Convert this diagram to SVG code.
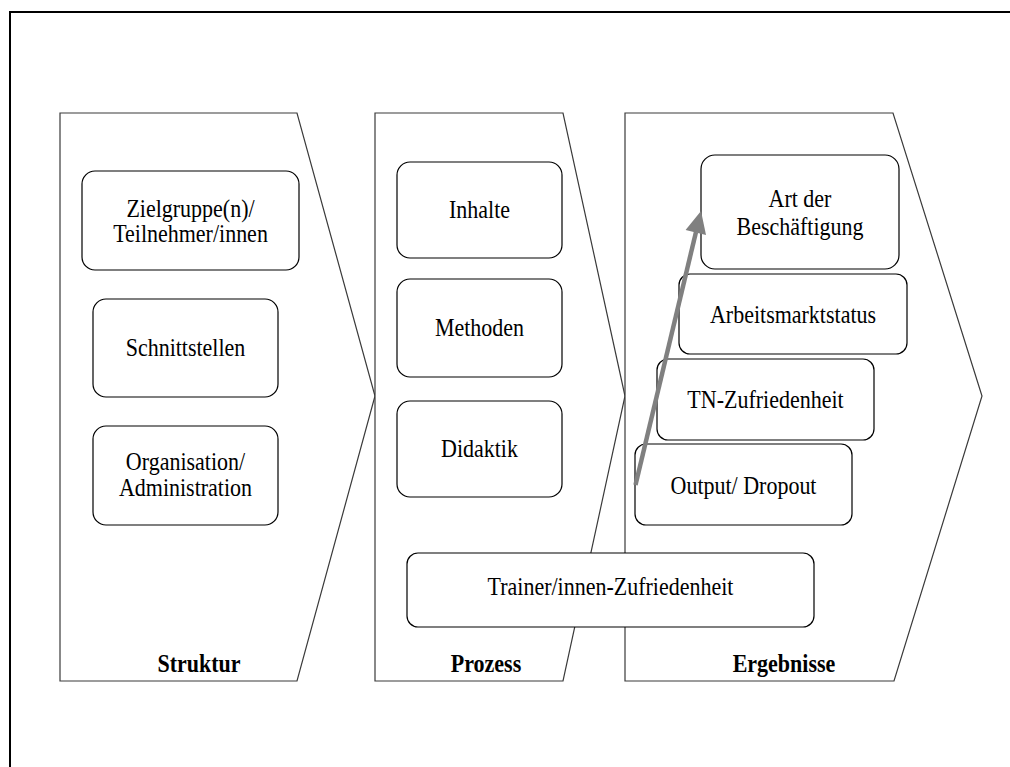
<svg xmlns="http://www.w3.org/2000/svg" width="1010" height="767" viewBox="0 0 1010 767">
<style>
.frame{fill:none;stroke:#000;stroke-width:2}
.chev{fill:#fff;stroke:#3a3a3a;stroke-width:1.2}
.box{fill:#fff;stroke:#000;stroke-width:1.2}
.t{font-family:"Liberation Serif","Times New Roman",serif;font-size:22px;fill:#000;text-anchor:middle}
.b{font-family:"Liberation Serif","Times New Roman",serif;font-size:22px;font-weight:bold;fill:#000;text-anchor:middle}
.arr{stroke:#808080;stroke-width:4.5;fill:none}
</style>
<rect width="1010" height="767" fill="#fff"/>
<path class="frame" d="M10,767 V12 H1010"/>

<g id="struktur">
<polygon class="chev" points="60,113 297,113 375,396 297,681 60,681"/>
<text class="b" transform="translate(199,672) scale(1,1.1)">Struktur</text>
</g>
<g id="prozess">
<polygon class="chev" points="375,113 563,113 625,396 563,681 375,681"/>
<text class="b" transform="translate(486,672) scale(1,1.1)">Prozess</text>
</g>
<g id="ergebnisse">
<polygon class="chev" points="625,113 893,113 982,396 894,681 625,681"/>
<text class="b" transform="translate(784,672) scale(1,1.1)">Ergebnisse</text>
</g>

<g id="zielgruppe">
<rect class="box" x="82" y="171" width="217" height="99" rx="13"/>
<text class="t" transform="translate(190.5,217) scale(1,1.1)">Zielgruppe(n)/</text>
<text class="t" transform="translate(190.5,242) scale(1,1.1)">Teilnehmer/innen</text>
</g>
<g id="schnittstellen">
<rect class="box" x="93" y="299" width="185" height="98" rx="13"/>
<text class="t" transform="translate(185.5,356) scale(1,1.1)">Schnittstellen</text>
</g>
<g id="organisation">
<rect class="box" x="93" y="426" width="185" height="99" rx="13"/>
<text class="t" transform="translate(185.5,470) scale(1,1.1)">Organisation/</text>
<text class="t" transform="translate(185.5,496) scale(1,1.1)">Administration</text>
</g>

<g id="inhalte">
<rect class="box" x="397" y="162" width="165" height="96" rx="13"/>
<text class="t" transform="translate(479.5,218) scale(1,1.1)">Inhalte</text>
</g>
<g id="methoden">
<rect class="box" x="397" y="279" width="165" height="98" rx="13"/>
<text class="t" transform="translate(479.5,336) scale(1,1.1)">Methoden</text>
</g>
<g id="didaktik">
<rect class="box" x="397" y="401" width="165" height="96" rx="13"/>
<text class="t" transform="translate(479.5,457) scale(1,1.1)">Didaktik</text>
</g>

<g id="trainer">
<rect class="box" x="407" y="553" width="407" height="74" rx="11"/>
<text class="t" transform="translate(610.5,595) scale(1,1.1)">Trainer/innen-Zufriedenheit</text>
</g>

<g id="art">
<rect class="box" x="701" y="155" width="198" height="114" rx="14"/>
<text class="t" transform="translate(800,207) scale(1,1.1)">Art der</text>
<text class="t" transform="translate(800,235) scale(1,1.1)">Beschäftigung</text>
</g>
<g id="arbeitsmarkt">
<rect class="box" x="679" y="274" width="228" height="80" rx="11"/>
<text class="t" transform="translate(793,323) scale(1,1.1)">Arbeitsmarktstatus</text>
</g>
<g id="tn">
<rect class="box" x="657" y="359" width="217" height="81" rx="11"/>
<text class="t" transform="translate(765.5,408) scale(1,1.1)">TN-Zufriedenheit</text>
</g>
<g id="output">
<rect class="box" x="635" y="444" width="217" height="81" rx="11"/>
<text class="t" transform="translate(743.5,494) scale(1,1.1)">Output/ Dropout</text>
</g>

<g id="connectors">
<line class="arr" x1="635.5" y1="485" x2="696" y2="232"/>
<polygon points="701,211 685.6,230 706,235" fill="#808080"/>
</g>
</svg>
